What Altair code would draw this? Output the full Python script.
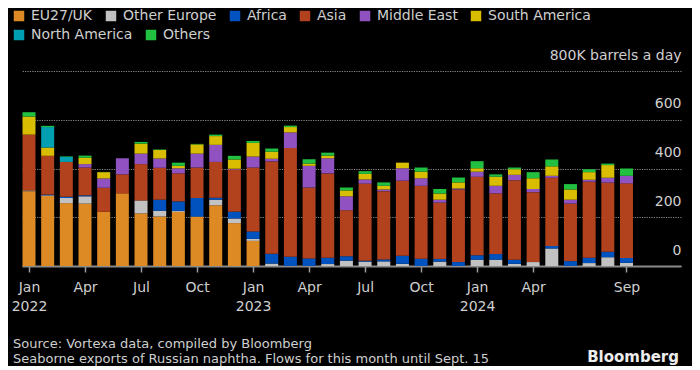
import altair as alt
import pandas as pd

months = ["2022-01","2022-02","2022-03","2022-04","2022-05","2022-06","2022-07","2022-08","2022-09","2022-10","2022-11","2022-12",
          "2023-01","2023-02","2023-03","2023-04","2023-05","2023-06","2023-07","2023-08","2023-09","2023-10","2023-11","2023-12",
          "2024-01","2024-02","2024-03","2024-04","2024-05","2024-06","2024-07","2024-08","2024-09"]

series = ["EU27/UK", "Other Europe", "Africa", "Asia", "Middle East", "South America", "North America", "Others"]
colors = ["#DD8A25", "#C2C2C2", "#0052BE", "#B2411D", "#9052C0", "#D9BD00", "#00A0B2", "#22C040"]

eu27_uk = [307, 287, 258, 256, 222, 298, 216, 203, 222, 201, 249, 176, 103, 0, 0, 0, 0, 0, 0, 0, 0, 0, 0, 0, 0, 0, 0, 0, 0, 0, 0, 0, 0]
other_europe = [3, 3, 21, 30, 0, 0, 53, 24, 4, 2, 23, 19, 8, 10, 0, 0, 8, 22, 18, 19, 9, 0, 18, 0, 26, 26, 9, 16, 72, 0, 12, 36, 13]
africa = [0, 3, 5, 4, 0, 0, 0, 45, 39, 76, 8, 28, 31, 40, 38, 31, 26, 18, 4, 8, 33, 30, 11, 16, 18, 23, 17, 0, 10, 20, 22, 22, 20]
asia = [229, 159, 143, 114, 99, 78, 149, 131, 115, 125, 147, 173, 262, 379, 446, 291, 346, 189, 316, 280, 308, 299, 231, 298, 322, 249, 326, 287, 280, 236, 312, 284, 306]
middle_east = [0, 0, 0, 14, 38, 66, 43, 38, 21, 57, 70, 3, 45, 11, 64, 89, 62, 57, 17, 7, 51, 31, 12, 4, 21, 31, 22, 13, 8, 16, 8, 20, 31]
south_america = [74, 34, 0, 26, 26, 0, 41, 35, 10, 38, 36, 38, 56, 29, 22, 9, 11, 24, 23, 15, 23, 27, 25, 25, 14, 37, 23, 44, 39, 42, 31, 52, 0]
north_america = [0, 84, 21, 0, 0, 0, 0, 0, 0, 0, 0, 0, 0, 0, 0, 0, 0, 0, 0, 0, 0, 0, 0, 0, 0, 0, 0, 0, 0, 0, 0, 0, 0]
others = [18, 5, 2, 9, 1, 0, 7, 2, 13, 2, 6, 15, 8, 13, 6, 18, 12, 12, 11, 14, 0, 17, 19, 20, 29, 10, 7, 25, 28, 22, 12, 6, 30]

tick_positions = [0, 3, 6, 9, 12, 15, 18, 21, 24, 27, 32]
tick_labels = [["Jan", "2022"], ["Apr"], ["Jul"], ["Oct"], ["Jan", "2023"], ["Apr"], ["Jul"], ["Oct"], ["Jan", "2024"], ["Apr"], ["Sep"]]

y_ticks = [0, 200, 400, 600, 800]
unit_label = "800K barrels a day"

source_lines = "Source: Vortexa data, compiled by Bloomberg\nSeaborne exports of Russian naphtha. Flows for this month until Sept. 15"
brand = "Bloomberg"

all_series = [eu27_uk, other_europe, africa, asia, middle_east, south_america, north_america, others]
rows = []
for si, (name, vals) in enumerate(zip(series, all_series)):
    for mi, v in enumerate(vals):
        rows.append({"idx": mi, "month": months[mi], "series": name, "value": v, "order": si})
df = pd.DataFrame(rows)

# build label expression
expr = "''"
for pos, lab in reversed(list(zip(tick_positions, tick_labels))):
    arr = "[" + ",".join("'" + s + "'" for s in lab) + "]"
    expr = f"datum.value == {pos} ? {arr} : ({expr})"

FONT = "DejaVu Sans"
TXT = "#cfcfcf"

x_enc = alt.X("idx:Q",
              scale=alt.Scale(domain=[-0.375, 34.92], nice=False, zero=False, padding=0),
              axis=alt.Axis(values=tick_positions, labelExpr=expr, title=None, grid=False,
                            domainColor="#8a8a8a", domainWidth=2,
                            tickColor="#9a9a9a", tickSize=6, tickWidth=1.5,
                            labelColor=TXT, labelFont=FONT, labelFontSize=14,
                            labelPadding=8, labelLineHeight=19, labelFlush=False,
                            labelOverlap=False, labelBound=False))
y_enc = alt.Y("y0:Q",
              scale=alt.Scale(domain=[0, 800], nice=False),
              axis=alt.Axis(orient="right", values=y_ticks, title=None,
                            labelExpr=f"datum.value == 800 ? '{unit_label}' : datum.label",
                            domain=False, ticks=False, labelAlign="right", labelPadding=0,
                            labelOffset=-16, labelColor=TXT, labelFont=FONT, labelFontSize=14,
                            labelOverlap=False, labelBound=False, labelFlush=False,
                            grid=True, gridColor="#8a8a8a", gridDash=[1.2, 1.2], gridWidth=1))


def legend(x, y, n):
    return alt.Legend(title=None, orient="none", legendX=x, legendY=y,
                      direction="horizontal", columns=n,
                      symbolType="square", symbolSize=110, symbolStrokeWidth=0,
                      labelColor=TXT, labelFont=FONT, labelFontSize=14,
                      labelOffset=5, columnPadding=11, padding=0)


base = alt.Chart(df).transform_stack(
    stack="value", groupby=["idx"], as_=["y0", "y1"], sort=[alt.SortField("order", order="ascending")]
)

row1 = series[:6]
row2 = series[6:]

bars1 = base.transform_filter(alt.FieldOneOfPredicate(field="series", oneOf=row1)).mark_bar(size=13).encode(
    x=x_enc, y=y_enc, y2="y1:Q",
    color=alt.Color("series:N", scale=alt.Scale(domain=row1, range=colors[:6]), legend=legend(-10, -62, 6)),
)
bars2 = base.transform_filter(alt.FieldOneOfPredicate(field="series", oneOf=row2)).mark_bar(size=13).encode(
    x=x_enc, y=y_enc, y2="y1:Q",
    color=alt.Color("series:N", scale=alt.Scale(domain=row2, range=colors[6:]), legend=legend(-10, -43, 2)),
)

src = alt.Chart(pd.DataFrame({"t": [source_lines]})).mark_text(
    align="left", baseline="middle", lineBreak="\n", lineHeight=15,
    font=FONT, fontSize=13, color=TXT
).encode(x=alt.value(-9), y=alt.value(273), text="t:N")

logo = alt.Chart(pd.DataFrame({"t": [brand]})).mark_text(
    align="right", baseline="middle", font=FONT, fontSize=15, fontWeight="bold", color="#ececec"
).encode(x=alt.value(657), y=alt.value(286), text="t:N")

chart = alt.layer(bars1, bars2, src, logo).resolve_scale(color="independent").resolve_legend(
    color="independent"
).properties(
    width=659, height=195,
    autosize=alt.AutoSizeParams(type="none"),
    padding={"left": 14, "top": 63, "right": 11, "bottom": 100},
    background="#000000",
).configure_view(stroke=None)

chart.save("out.html", embed_options={"renderer": "svg", "actions": False})
